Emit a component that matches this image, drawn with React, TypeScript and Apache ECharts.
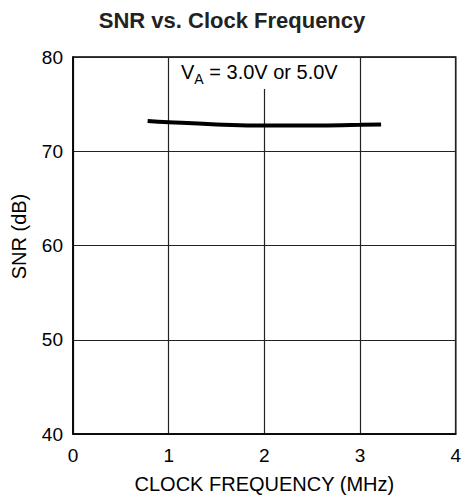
import React, { useEffect, useRef } from "react";
import * as echarts from "echarts";

const clockMHz = [0.78, 1.0, 1.5, 2.0, 2.5, 3.0, 3.22];
const snrDb = [73.22, 73.08, 72.85, 72.72, 72.72, 72.8, 72.85];
const title = "SNR vs. Clock Frequency";
const xName = "CLOCK FREQUENCY (MHz)";
const yName = "SNR (dB)";
const noteAt = [2, 80];

const FONT = "'Liberation Sans', Arial, Helvetica, sans-serif";

export default function App() {
  const ref = useRef<HTMLDivElement>(null);
  useEffect(() => {
    if (!ref.current) return;
    const chart = echarts.init(ref.current, null, { renderer: "svg" });
    const option: any = {
      animation: false,
      backgroundColor: "#fff",
      textStyle: { fontFamily: FONT },
      title: {
        text: title,
        left: "center",
        top: 4,
        textStyle: { fontFamily: FONT, fontSize: 22, fontWeight: "bold", color: "#222" },
      },
      grid: {
        left: 73,
        right: 7,
        top: 57,
        bottom: 68,
        show: true,
        borderColor: "#000",
        borderWidth: 1.5,
        containLabel: false,
      },
      xAxis: {
        type: "value",
        min: 0,
        max: 4,
        interval: 1,
        name: xName,
        nameLocation: "middle",
        nameGap: 40,
        nameTextStyle: { fontFamily: FONT, fontSize: 20, color: "#000" },
        axisLine: { show: true, lineStyle: { color: "#000", width: 1.5 } },
        axisTick: { show: false },
        axisLabel: { fontFamily: FONT, fontSize: 19, color: "#000", margin: 12 },
        splitLine: { show: true, lineStyle: { color: "#222", width: 1.2 } },
      },
      yAxis: {
        type: "value",
        min: 40,
        max: 80,
        interval: 10,
        axisLine: { show: true, lineStyle: { color: "#000", width: 1.5 } },
        axisTick: { show: false },
        axisLabel: { fontFamily: FONT, fontSize: 19, color: "#000", margin: 10 },
        splitLine: { show: true, lineStyle: { color: "#222", width: 1.2 } },
      },
      series: [
        {
          type: "line",
          data: clockMHz.map((x, i) => [x, snrDb[i]]),
          smooth: true,
          showSymbol: false,
          lineStyle: { color: "#000", width: 4 },
          z: 3,
        },
      ],
    };
    chart.setOption(option);
    const p = chart.convertToPixel({ gridIndex: 0 }, noteAt) as number[];
    const p1 = chart.convertToPixel({ gridIndex: 0 }, [1, 80]) as number[];
    const p3 = chart.convertToPixel({ gridIndex: 0 }, [3, 80]) as number[];
    const bottom = chart.convertToPixel({ gridIndex: 0 }, [0, 40]) as number[];
    chart.setOption({
      graphic: [
        {
          type: "rect",
          shape: { x: p1[0] + 2, y: p[1] + 1, width: p3[0] - p1[0] - 4, height: 31 },
          style: { fill: "#fff" },
          z: 10,
        },
        {
          type: "text",
          x: p[0] - 5,
          y: p[1] + 5,
          z: 11,
          style: {
            text: "{v|V}{s|A}{v| = 3.0V or 5.0V}",
            align: "center",
            verticalAlign: "top",
            rich: {
              v: { fontFamily: FONT, fontSize: 20, fill: "#000", verticalAlign: "top", lineHeight: 22 },
              s: { fontFamily: FONT, fontSize: 14, fill: "#000", verticalAlign: "top", lineHeight: 14, padding: [10, 0, 0, 0] },
            },
          },
        },
        {
          type: "text",
          x: 19,
          y: (p[1] + bottom[1]) / 2 - 9,
          rotation: Math.PI / 2,
          z: 11,
          style: {
            text: yName,
            fontFamily: FONT,
            fontSize: 20,
            fill: "#000",
            align: "center",
            verticalAlign: "middle",
          },
        },
      ],
    });
    return () => chart.dispose();
  }, []);
  return (
    <div
      ref={ref}
      style={{ position: "fixed", left: 0, top: 0, width: 464, height: 502 }}
    />
  );
}
